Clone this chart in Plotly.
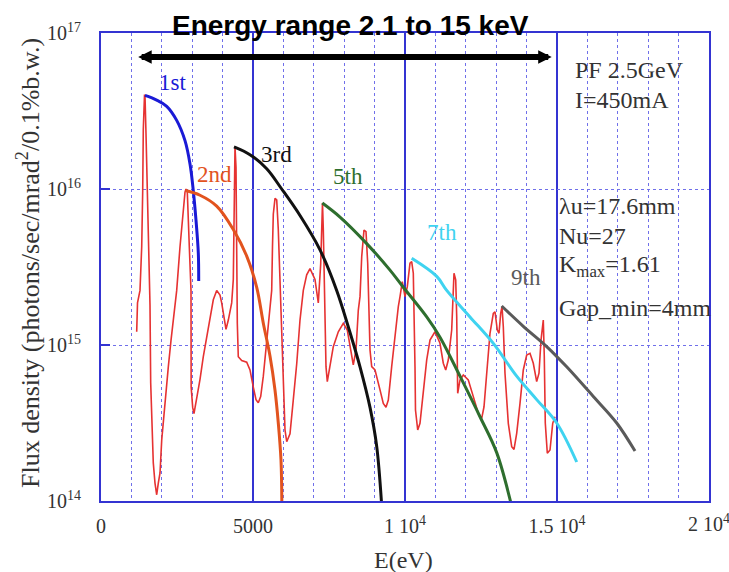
import plotly.graph_objects as go

# ---------------- data (energy in eV, flux as log10 of photons/sec/mrad^2/0.1%b.w.) ----------------
red_energy_ev = [
    1174, 1201, 1283, 1339, 1372, 1391, 1431, 1447, 1480, 1523,
    1556, 1612, 1635, 1668, 1720, 1776, 1832, 1885, 1941, 1997,
    2105, 2214, 2303, 2434, 2490, 2599, 2688, 2763, 2796, 2839,
    2905, 2961, 2965, 3016, 3059, 3148, 3257, 3365, 3477, 3586,
    3694, 3806, 3914, 3970, 4046, 4112, 4188, 4299, 4352, 4375,
    4398, 4408, 4441, 4464, 4470, 4484, 4516, 4628, 4793, 4901,
    5010, 5099, 5174, 5253, 5339, 5451, 5559, 5615, 5641, 5668,
    5724, 5780, 5832, 5888, 5944, 5997, 6053, 6109, 6217, 6326,
    6438, 6546, 6655, 6766, 6875, 7039, 7148, 7227, 7280, 7286,
    7313, 7345, 7368, 7401, 7444, 7533, 7641, 7806, 7970, 8102,
    8214, 8299, 8388, 8464, 8520, 8576, 8651, 8717, 8773, 8816,
    8849, 8905, 9013, 9178, 9286, 9375, 9451, 9562, 9671, 9780,
    9836, 9911, 10000, 10076, 10164, 10220, 10273, 10306, 10329, 10345,
    10418, 10493, 10602, 10714, 10822, 10987, 11151, 11260, 11339, 11424,
    11536, 11569, 11612, 11668, 11701, 11734, 11809, 11918, 12082, 12247,
    12411, 12523, 12599, 12688, 12796, 12905, 12961, 13036, 13092, 13148,
    13191, 13234, 13289, 13398, 13510, 13586, 13674, 13783, 13891, 14003,
    14112, 14220, 14332, 14408, 14474, 14549, 14582, 14615, 14681, 14770,
    14859, 14934,
]
red_log10_flux = [
    15.085, 15.27, 15.35, 15.63, 15.99, 16.38, 16.60, 16.60, 16.357, 15.99,
    15.63, 15.256, 14.756, 14.50, 14.244, 14.115, 14.04, 14.115, 14.18, 14.39,
    14.647, 14.86, 15.03, 15.245, 15.35, 15.63, 15.85, 15.98, 16.00, 15.98,
    15.63, 15.35, 14.73, 14.60, 14.56, 14.65, 14.78, 14.925, 15.05, 15.18,
    15.29, 15.35, 15.32, 15.27, 15.16, 15.10, 15.16, 15.27, 15.42, 15.85,
    16.25, 16.27, 16.14, 15.74, 15.26, 15.14, 14.925, 14.90, 14.89, 14.84,
    14.73, 14.65, 14.63, 14.67, 14.80, 15.03, 15.245, 15.35, 15.63, 15.84,
    15.94, 15.93, 15.74, 15.42, 15.10, 14.71, 14.455, 14.38, 14.43, 14.65,
    14.88, 15.16, 15.35, 15.45, 15.49, 15.42, 15.27, 15.52, 15.90, 15.91,
    15.737, 15.417, 15.096, 14.861, 14.765, 14.861, 14.989, 15.085, 15.139, 15.096,
    14.968, 14.872, 14.968, 15.224, 15.310, 15.566, 15.737, 15.726, 15.524, 15.203,
    14.968, 14.861, 14.840, 14.712, 14.626, 14.601, 14.647, 14.861, 15.075, 15.246,
    15.310, 15.406, 15.310, 15.374, 15.524, 15.534, 15.460, 15.203, 14.861, 14.583,
    14.455, 14.498, 14.690, 14.904, 15.032, 15.085, 15.011, 14.883, 14.840, 14.904,
    15.096, 15.310, 15.460, 15.417, 15.181, 14.690, 14.776, 14.808, 14.776, 14.669,
    14.562, 14.530, 14.604, 14.819, 15.075, 15.203, 15.213, 15.096, 15.075, 15.203,
    15.246, 15.117, 14.819, 14.498, 14.348, 14.331, 14.434, 14.626, 14.840, 14.936,
    14.947, 14.883, 14.765, 14.819, 15.032, 15.160, 14.925, 14.498, 14.306, 14.327,
    14.498, 14.540,
]

h1_energy_ev = [1447, 1832, 2161, 2490, 2763, 2928, 3036, 3125, 3201, 3214]
h1_log10_flux = [16.60, 16.57, 16.53, 16.44, 16.31, 16.16, 15.99, 15.80, 15.59, 15.41]

h2_energy_ev = [2786, 3257, 3806, 4352, 4793, 5122, 5339, 5559, 5724, 5832, 5921, 5950]
h2_log10_flux = [15.99, 15.96, 15.89, 15.74, 15.57, 15.37, 15.14, 14.93, 14.71, 14.50, 14.26, 13.95]

h3_energy_ev = [4375, 4901, 5451, 5944, 6546, 7204, 7753, 8191, 8520, 8849, 9069, 9240]
h3_log10_flux = [16.27, 16.22, 16.13, 16.00, 15.83, 15.61, 15.35, 15.08, 14.86, 14.60, 14.35, 13.95]

h5_energy_ev = [7280, 7862, 8740, 9507, 9944, 10714, 11151, 11809, 12467, 13016, 13530]
h5_log10_flux = [15.91, 15.82, 15.65, 15.48, 15.37, 15.18, 15.05, 14.80, 14.54, 14.31, 13.95]

h7_energy_ev = [10220, 11043, 11372, 12138, 12905, 13674, 14332, 14990, 15648]
h7_log10_flux = [15.556, 15.44, 15.35, 15.18, 15.01, 14.80, 14.65, 14.50, 14.25]

h9_energy_ev = [13180, 13891, 14661, 15319, 16194, 16964, 17566]
h9_log10_flux = [15.25, 15.12, 14.99, 14.86, 14.67, 14.50, 14.32]

harmonic_labels = ["1st", "2nd", "3rd", "5th", "7th", "9th"]
harmonic_label_energy = [2368, 3717, 5789, 8125, 11217, 13980]
harmonic_label_log10 = [16.68, 16.096, 16.218, 16.083, 15.724, 15.43]
harmonic_colors = ["#1a1ad6", "#e2531e", "#111111", "#2e6e2e", "#3fd3f0", "#5a5a5a"]

arrow_energy_range = [1174, 14826]
arrow_log10 = 16.846

x_tick_vals = [0, 5000, 10000, 15000]
x_tick_text = ["0", "5000", "1 10<sup>4</sup>", "1.5 10<sup>4</sup>"]
x_last_tick_val = 20000
x_last_tick_text = "2 10<sup>4</sup>"
y_tick_vals = [1e14, 1e15, 1e16, 1e17]
y_tick_text = ["10<sup>14</sup>", "10<sup>15</sup>", "10<sup>16</sup>", "10<sup>17</sup>"]

info_lines = ["PF 2.5GeV", "I=450mA", "λu=17.6mm", "Nu=27", "K<sub>max</sub>=1.61", "Gap_min=4mm"]

# ---------------- figure ----------------
def flux(vals):
    return [10 ** v for v in vals]

fig = go.Figure()
fig.add_trace(go.Scatter(x=red_energy_ev, y=flux(red_log10_flux), mode="lines",
                         line=dict(color="#e63232", width=1.6), hoverinfo="skip"))

curves = [(h1_energy_ev, h1_log10_flux), (h2_energy_ev, h2_log10_flux),
          (h3_energy_ev, h3_log10_flux), (h5_energy_ev, h5_log10_flux),
          (h7_energy_ev, h7_log10_flux), (h9_energy_ev, h9_log10_flux)]
for (ex, lf), col in zip(curves, harmonic_colors):
    fig.add_trace(go.Scatter(x=ex, y=flux(lf), mode="lines", line_shape="spline",
                             line=dict(color=col, width=3), hoverinfo="skip"))

serif = "Liberation Serif, Times New Roman, serif"
text_col = "#333333"

for lab, ex, ly, col in zip(harmonic_labels, harmonic_label_energy, harmonic_label_log10, harmonic_colors):
    fig.add_annotation(x=ex, y=ly, text=lab, showarrow=False, xref="x", yref="y",
                       font=dict(family=serif, size=23, color=col))

# double-headed arrow
fig.add_annotation(x=arrow_energy_range[1], y=arrow_log10, ax=arrow_energy_range[0], ay=arrow_log10,
                   xref="x", yref="y", axref="x", ayref="y", text="", showarrow=True,
                   arrowhead=2, startarrowhead=2, arrowside="end+start", arrowwidth=6,
                   arrowsize=0.45, startarrowsize=0.45, arrowcolor="#000000")

# title
fig.add_annotation(x=0.411, y=1.015, xref="paper", yref="paper", text="<b>Energy range 2.1 to 15 keV</b>",
                   showarrow=False, xanchor="center", yanchor="middle",
                   font=dict(family="Liberation Sans, Arial, sans-serif", size=28, color="#000000"))

# info text
info_pos = [(573, 70), (573, 100), (557, 206), (557, 236), (557, 266), (557, 308)]
for txt, (px, py) in zip(info_lines, info_pos):
    fig.add_annotation(x=(px - 101) / 608, y=(501 - py) / 468, xref="paper", yref="paper",
                       text=txt, showarrow=False, xanchor="left", yanchor="middle",
                       font=dict(family=serif, size=24, color=text_col))

# last x tick label (sits on the right frame edge)
fig.add_annotation(x=x_last_tick_val, y=0, xref="x", yref="paper", text=x_last_tick_text,
                   showarrow=False, xanchor="center", yanchor="top", yshift=-8,
                   font=dict(family=serif, size=20, color=text_col))

# axis titles
fig.add_annotation(x=(403 - 101) / 608, y=(501 - 560) / 468, xref="paper", yref="paper",
                   text="E(eV)", showarrow=False, xanchor="center", yanchor="middle",
                   font=dict(family=serif, size=24, color=text_col))
fig.add_annotation(x=(28 - 101) / 608, y=(501 - 263) / 468, xref="paper", yref="paper",
                   text="Flux density (photons/sec/mrad<sup>2</sup>/0.1%b.w.)", showarrow=False,
                   textangle=-90, xanchor="center", yanchor="middle",
                   font=dict(family=serif, size=26, color=text_col))

border = "#3434d2"
minor_col = "#7070ea"
fig.update_layout(
    width=729, height=572,
    margin=dict(l=101, r=20, t=33, b=71),
    paper_bgcolor="white", plot_bgcolor="white",
    showlegend=False,
    xaxis=dict(range=[0, 20000], tickvals=x_tick_vals, ticktext=x_tick_text,
               showgrid=True, gridcolor=border, gridwidth=1.5,
               minor=dict(dtick=1000, showgrid=True, gridcolor=minor_col, griddash="dot", gridwidth=1),
               showline=True, mirror=True, linecolor=border, linewidth=2,
               ticks="", zeroline=False, ticklabelstandoff=6,
               tickfont=dict(family=serif, size=20, color=text_col)),
    yaxis=dict(type="log", range=[14, 17], tickvals=y_tick_vals, ticktext=y_tick_text,
               showgrid=True, gridcolor=minor_col, griddash="dot", gridwidth=1,
               showline=True, mirror=True, linecolor=border, linewidth=2,
               ticks="inside", ticklen=9, tickwidth=2, tickcolor=border,
               zeroline=False, ticklabelstandoff=14,
               tickfont=dict(family=serif, size=20, color=text_col)),
)

fig.write_html("out.html", config={"displayModeBar": False},
               post_script="document.body.style.margin='0px';document.body.style.overflow='hidden';")
